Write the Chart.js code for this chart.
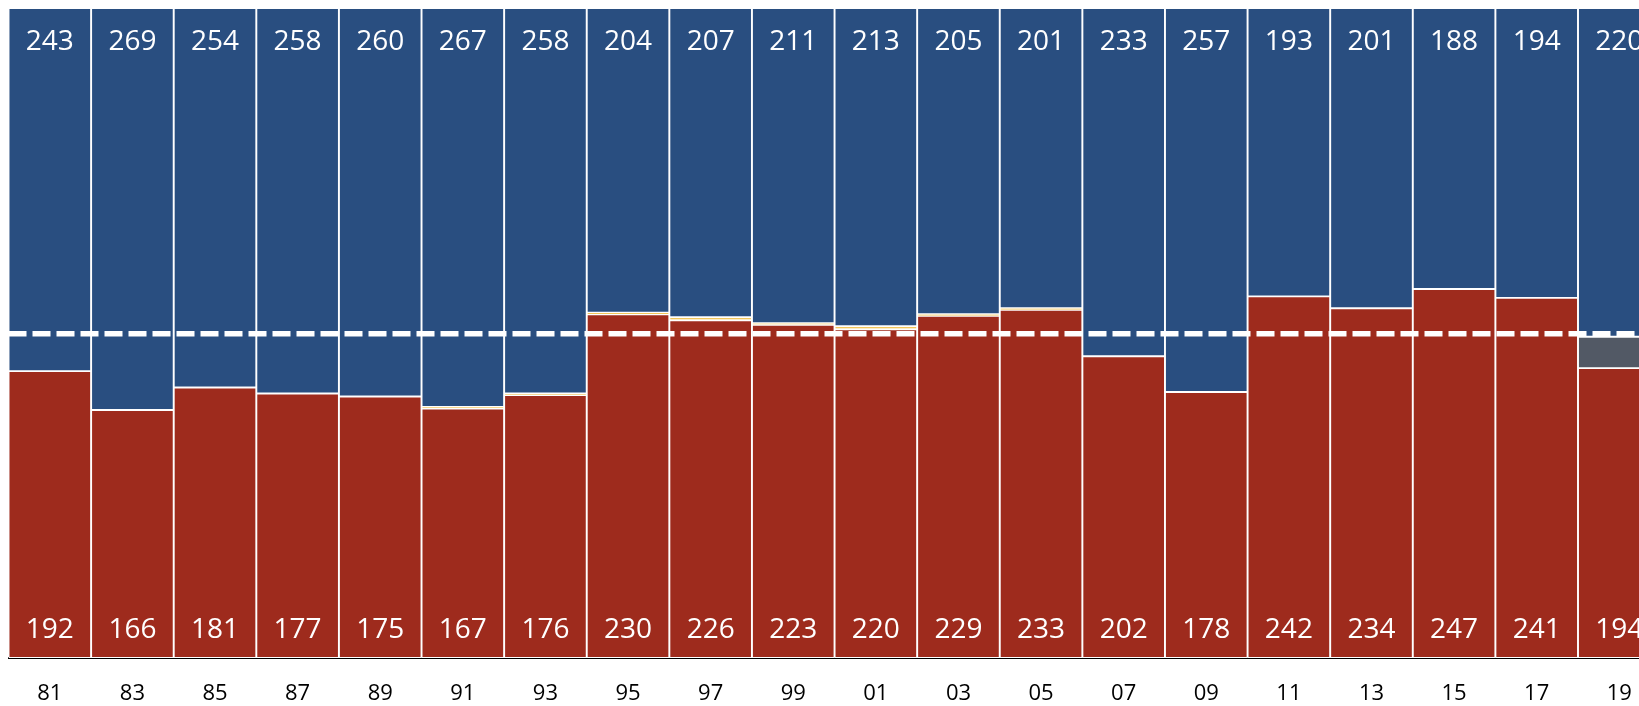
<!DOCTYPE html>
<html>
<head>
<meta charset="utf-8">
<script src="https://cdn.jsdelivr.net/npm/chart.js@4/dist/chart.umd.min.js"></script>
<style>
  html, body { margin: 0; padding: 0; background: #fff; overflow: hidden; }
  #wrap { position: relative; width: 1680px; height: 706px; }
</style>
</head>
<body>
<div id="wrap"><canvas id="houseChart"></canvas></div>
<script>
// Congress start years (two digits)
const years = ['81', '83', '85', '87', '89', '91', '93', '95', '97', '99',
               '01', '03', '05', '07', '09', '11', '13', '15', '17', '19'];

// Seats per party
const republicans = [192, 166, 181, 177, 175, 167, 176, 230, 226, 223, 220, 229, 233, 202, 178, 242, 234, 247, 241, 194];
const others      = [0, 0, 0, 0, 0, 1, 1, 1, 2, 1, 2, 1, 1, 0, 0, 0, 0, 0, 0, 0];
const vacant      = [0, 0, 0, 0, 0, 0, 0, 0, 0, 0, 0, 0, 0, 0, 0, 0, 0, 0, 0, 21];
const democrats   = [243, 269, 254, 258, 260, 267, 258, 204, 207, 211, 213, 205, 201, 233, 257, 193, 201, 188, 194, 220];

const totalSeats = 435;
const majorityLine = 217;

const labelFont = '28px "Open Sans", sans-serif';

// Draw seat counts and the majority line
const overlayPlugin = {
    id: 'overlay',
    afterDatasetsDraw(chart) {
        const { ctx, chartArea, scales } = chart;
        ctx.save();

        // dashed majority line
        const yMaj = scales.y.getPixelForValue(majorityLine);
        ctx.strokeStyle = '#ffffff';
        ctx.lineWidth = 5.5;
        ctx.setLineDash([18, 6]);
        ctx.beginPath();
        ctx.moveTo(chartArea.left, yMaj);
        ctx.lineTo(chartArea.right, yMaj);
        ctx.stroke();
        ctx.setLineDash([]);

        // value labels
        ctx.fillStyle = '#ffffff';
        ctx.font = labelFont;
        ctx.textAlign = 'center';
        ctx.textBaseline = 'middle';
        years.forEach((y, i) => {
            const x = scales.x.getPixelForValue(i);
            ctx.fillText(String(democrats[i]), x, chartArea.top + 34);
            ctx.fillText(String(republicans[i]), x, chartArea.bottom - 28);
        });
        ctx.restore();
    }
};

const barStyle = {
    borderColor: '#ffffff',
    borderWidth: 1.3,
    borderSkipped: false,
    barPercentage: 1,
    categoryPercentage: 1
};

const ctx = document.getElementById('houseChart').getContext('2d');
const houseChart = new Chart(ctx, {
    type: 'bar',
    data: {
        labels: years,
        datasets: [
            { label: 'Republicans', data: republicans, backgroundColor: '#9e2b1d', ...barStyle },
            { label: 'Other', data: others, backgroundColor: '#efb324', ...barStyle },
            { label: 'Vacant', data: vacant, backgroundColor: '#525965', ...barStyle },
            { label: 'Democrats', data: democrats, backgroundColor: '#294e80', ...barStyle }
        ]
    },
    options: {
        responsive: true,
        maintainAspectRatio: false,
        animation: false,
        layout: {
            padding: { left: 8.5, right: 19.4, top: 8, bottom: 2 }
        },
        plugins: {
            legend: { display: false },
            tooltip: { enabled: false }
        },
        scales: {
            x: {
                stacked: true,
                grid: { display: false, drawTicks: false },
                border: { display: true, color: '#000000', width: 2 },
                ticks: {
                    color: '#000000',
                    padding: 23,
                    font: { family: '"Open Sans", sans-serif', size: 22 }
                },
                afterFit(scale) {
                    scale.height = 46;
                }
            },
            y: {
                stacked: true,
                display: false,
                min: 0,
                max: totalSeats
            }
        }
    },
    plugins: [overlayPlugin]
});
</script>
</body>
</html>
